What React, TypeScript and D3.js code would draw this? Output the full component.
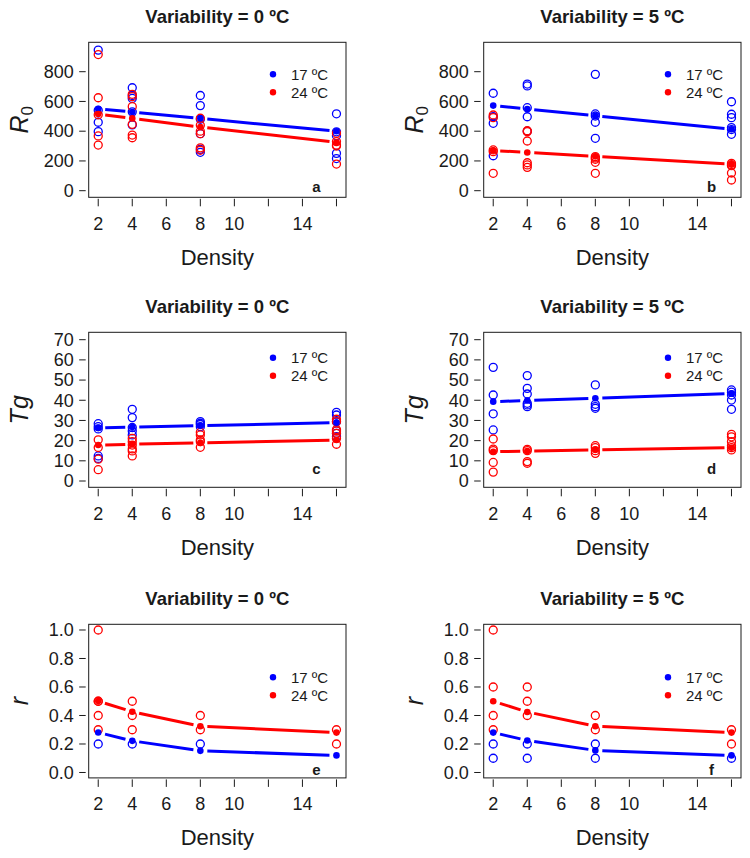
import React from "react";
import * as d3 from "d3";

// ---------- data ----------
const densities = [2, 4, 8, 16];
const xTicks = [2, 4, 6, 8, 10, 12, 14, 16];
const xTickLabels = [2, 4, 6, 8, 10, 14];
const tempLabels = ["17 ºC", "24 ºC"];
const titles = ["Variability = 0 ºC", "Variability = 5 ºC"];
const panelLetters = ["a", "b", "c", "d", "e", "f"];

const r0Ticks = [0, 200, 400, 600, 800];
const tgTicks = [0, 10, 20, 30, 40, 50, 60, 70];
const rTicks = [0, 0.2, 0.4, 0.6, 0.8, 1.0];

// R0, variability 0
const r0V0_17 = [[945, 540, 460, 397], [692, 640, 620, 530, 442], [640, 572, 480, 383, 278, 258], [517, 396, 370, 251, 216]];
const r0V0_24 = [[915, 625, 510, 368, 307], [648, 632, 565, 446, 374, 356], [487, 440, 400, 383, 288, 272], [386, 330, 307, 300, 179]];
const r0V0_17fit = [550, 529, 486, 400];
const r0V0_24fit = [515, 486, 428, 325];
// R0, variability 5
const r0V5_17 = [[655, 497, 453, 235], [717, 704, 558, 497, 400], [782, 516, 502, 460, 352], [598, 514, 491, 424, 411, 379]];
const r0V5_24 = [[509, 491, 274, 262, 117], [403, 397, 334, 188, 173, 157], [229, 220, 211, 191, 117], [184, 175, 168, 119, 72]];
const r0V5_17fit = [572, 549, 504, 413];
const r0V5_24fit = [270, 257, 231, 178];
// Tg, variability 0
const tgV0_17 = [[28.4, 26.9, 25.8, 12.4, 11.2], [35.5, 31.4, 26.5, 24.8, 22.8], [29.4, 28.6, 28.0, 26.9], [34.0, 32.7, 29.4, 24.8, 23.6, 22.0]];
const tgV0_24 = [[20.4, 16.6, 10.8, 5.6], [21.1, 19.5, 17.8, 15.9, 14.9, 12.4], [24.1, 22.8, 20.3, 19.5, 16.7], [30.6, 29.4, 25.5, 24.8, 23.6, 21.1, 18.2]];
const tgV0_17fit = [26.3, 26.7, 27.4, 28.9];
const tgV0_24fit = [17.8, 18.2, 18.9, 20.3];
// Tg, variability 5
const tgV5_17 = [[56.3, 42.6, 33.3, 25.3], [52.2, 45.9, 43.1, 38.5, 37.7, 36.8], [47.6, 38.0, 36.8, 36.0], [45.1, 44.0, 42.6, 40.1, 35.5]];
const tgV5_24 = [[20.8, 15.8, 15.0, 9.2, 4.4], [15.7, 15.0, 9.6, 8.8], [17.5, 16.5, 15.0, 13.7], [23.1, 21.9, 19.5, 17.5, 16.5, 15.4]];
const tgV5_17fit = [39.3, 39.9, 41.0, 43.4];
const tgV5_24fit = [14.5, 14.8, 15.4, 16.5];
// r, variability 0
const rV0_17 = [[0.2], [0.2], [0.2], []];
const rV0_24 = [[1.0, 0.5, 0.5, 0.4, 0.3], [0.5, 0.4, 0.3], [0.4, 0.3], [0.3, 0.2]];
const rV0_17fit = [0.281, 0.222, 0.152, 0.12];
const rV0_24fit = [0.501, 0.426, 0.325, 0.28];
// r, variability 5
const rV5_17 = [[0.2, 0.1], [0.2, 0.1], [0.2, 0.1], [0.1]];
const rV5_24 = [[1.0, 0.6, 0.4, 0.3], [0.6, 0.5, 0.4], [0.4, 0.3], [0.3, 0.2]];
const rV5_17fit = [0.28, 0.225, 0.155, 0.12];
const rV5_24fit = [0.5, 0.425, 0.325, 0.28];

// ---------- layout ----------
const W = 750, H = 858;
const colLeft = [88.7, 483.7];
const boxW = 257.3;
const rowTop = [42.3, 332.3, 624.3];
const rowH = [155, 155, 153.6];
const FONT = "'Liberation Sans', Arial, Helvetica, sans-serif";
const TXT = "#1a1a1a";
const BLUE = "#0000ff";
const RED = "#ff0000";

type RowCfg = {
  domain: [number, number];
  ticks: number[];
  fmt: (v: number) => string;
  label: "R0" | "Tg" | "r";
  legendDy: number;
  letterY: number;
};
const rows: RowCfg[] = [
  { domain: [-44.4, 997.6], ticks: r0Ticks, fmt: (v) => String(v), label: "R0", legendDy: 32, letterY: 192 },
  { domain: [-3.12, 73.66], ticks: tgTicks, fmt: (v) => String(v), label: "Tg", legendDy: 25.5, letterY: 474 },
  { domain: [-0.038, 1.04], ticks: rTicks, fmt: (v) => v.toFixed(1), label: "r", legendDy: 53, letterY: 774.5 },
];
const panelData = [
  [[r0V0_17, r0V0_24, r0V0_17fit, r0V0_24fit], [r0V5_17, r0V5_24, r0V5_17fit, r0V5_24fit]],
  [[tgV0_17, tgV0_24, tgV0_17fit, tgV0_24fit], [tgV5_17, tgV5_24, tgV5_17fit, tgV5_24fit]],
  [[rV0_17, rV0_24, rV0_17fit, rV0_24fit], [rV5_17, rV5_24, rV5_17fit, rV5_24fit]],
];

function YLabel({ kind }: { kind: string }) {
  if (kind === "R0")
    return (
      <>
        <tspan fontStyle="italic">R</tspan>
        <tspan fontSize={17} dy={5}>0</tspan>
      </>
    );
  return <tspan fontStyle="italic">{kind}</tspan>;
}

function Panel({ ri, ci }: { ri: number; ci: number }) {
  const cfg = rows[ri];
  const [obs17, obs24, fit17, fit24] = panelData[ri][ci] as any;
  const x0 = colLeft[ci], y0 = rowTop[ri], h = rowH[ri];
  const x = d3.scaleLinear().domain([1.44, 16.56]).range([x0, x0 + boxW]);
  const y = d3.scaleLinear().domain(cfg.domain).range([y0 + h, y0]);
  const gap = 7;

  const segs = (fit: number[]) => {
    const out: string[] = [];
    for (let i = 0; i < fit.length - 1; i++) {
      const ax = x(densities[i]), ay = y(fit[i]);
      const bx = x(densities[i + 1]), by = y(fit[i + 1]);
      const len = Math.hypot(bx - ax, by - ay);
      const ux = (bx - ax) / len, uy = (by - ay) / len;
      const line = d3.line();
      out.push(line([[ax + ux * gap, ay + uy * gap], [bx - ux * gap, by - uy * gap]]) as string);
    }
    return out;
  };

  const circles = (obs: number[][], color: string) =>
    obs.flatMap((vals, i) =>
      vals.map((v, j) => (
        <circle key={`${color}${i}-${j}`} cx={x(densities[i])} cy={y(v)} r={4} fill="none" stroke={color} strokeWidth={1.3} />
      ))
    );

  const bottom = y0 + h;
  const cx = x0 + boxW / 2;
  return (
    <g fontFamily={FONT} fill={TXT}>
      <text x={cx} y={y0 - 19.5} textAnchor="middle" fontWeight="bold" fontSize={18.5}>
        {titles[ci]}
      </text>
      {/* y axis */}
      {cfg.ticks.map((t) => (
        <g key={"y" + t}>
          <line x1={x0 - 9.5} x2={x0 - 3} y1={y(t)} y2={y(t)} stroke={TXT} strokeWidth={1} />
          <text x={x0 - 15} y={y(t)} dy="0.35em" textAnchor="end" fontSize={18}>
            {cfg.fmt(t)}
          </text>
        </g>
      ))}
      {/* x axis */}
      {xTicks.map((t) => (
        <line key={"x" + t} x1={x(t)} x2={x(t)} y1={bottom + 1.5} y2={bottom + 9} stroke={TXT} strokeWidth={1} />
      ))}
      {xTickLabels.map((t) => (
        <text key={"xl" + t} x={x(t)} y={bottom + 32.5} textAnchor="middle" fontSize={18}>
          {t}
        </text>
      ))}
      <text x={cx} y={bottom + 67.5} textAnchor="middle" fontSize={22}>
        Density
      </text>
      <text transform={`translate(${x0 - 60.5},${y0 + h / 2}) rotate(-90)`} textAnchor="middle" fontSize={25}>
        <YLabel kind={cfg.label} />
      </text>
      {/* data */}
      {circles(obs17, BLUE)}
      {circles(obs24, RED)}
      {segs(fit17).map((d, i) => (
        <path key={"b" + i} d={d} stroke={BLUE} strokeWidth={3} fill="none" />
      ))}
      {segs(fit24).map((d, i) => (
        <path key={"r" + i} d={d} stroke={RED} strokeWidth={3} fill="none" />
      ))}
      {fit17.map((v: number, i: number) => (
        <circle key={"fb" + i} cx={x(densities[i])} cy={y(v)} r={3.3} fill={BLUE} />
      ))}
      {fit24.map((v: number, i: number) => (
        <circle key={"fr" + i} cx={x(densities[i])} cy={y(v)} r={3.3} fill={RED} />
      ))}
      {/* legend */}
      {tempLabels.map((lab, i) => (
        <g key={lab}>
          <circle cx={x0 + boxW - 73} cy={y0 + cfg.legendDy + i * 18} r={3.2} fill={i === 0 ? BLUE : RED} />
          <text x={x0 + boxW - 55} y={y0 + cfg.legendDy + i * 18} dy="0.35em" fontSize={15}>
            {lab}
          </text>
        </g>
      ))}
      <text x={x0 + boxW - 29.5} y={cfg.letterY} textAnchor="middle" fontWeight="bold" fontSize={15}>
        {panelLetters[ri * 2 + ci]}
      </text>
      <rect x={x0} y={y0} width={boxW} height={h} fill="none" stroke={TXT} strokeWidth={1} />
    </g>
  );
}

export default function App() {
  return (
    <svg width={W} height={H} viewBox={`0 0 ${W} ${H}`} style={{ position: "absolute", left: 0, top: 0, display: "block", background: "#fff" }}>
      <rect x={0} y={0} width={W} height={H} fill="#fff" />
      {[0, 1, 2].map((ri) => [0, 1].map((ci) => <Panel key={`${ri}-${ci}`} ri={ri} ci={ci} />))}
    </svg>
  );
}
